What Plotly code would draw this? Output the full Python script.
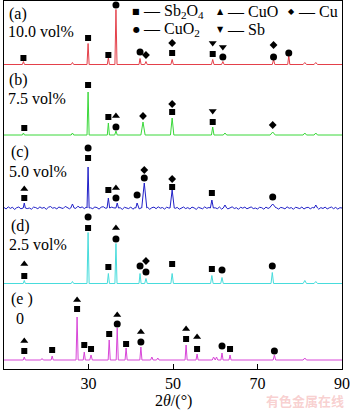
import plotly.graph_objects as go

# ---------------- data ----------------
x_ticks = [10, 30, 50, 70, 90]

sample_tags = ["(a)", "(b)", "(c)", "(d)", "(e )"]
sample_fracs = ["10.0 vol%", "7.5 vol%", "5.0 vol%", "2.5 vol%", "0"]
sample_offsets = [304.5, 234.0, 161.0, 85.5, 9.0]

# peak positions (2θ, °), intensities (a.u.) and half-widths (°)
a_pos = [14.6, 26.2, 29.9, 34.7, 36.5, 42.2, 43.6, 49.8, 59.4, 61.8, 73.8, 77.4, 81.2, 83.8]
a_int = [3, 2, 21, 7, 55, 6, 3, 5, 5, 3, 5, 9, 2, 2]
a_hw = [0.25, 0.3, 0.25, 0.25, 0.25, 0.25, 0.3, 0.3, 0.3, 0.3, 0.3, 0.25, 0.4, 0.4]

b_pos = [14.6, 26.2, 29.9, 34.7, 36.5, 42.9, 49.8, 59.4, 62.3, 73.6, 81.2, 83.8]
b_int = [2, 2, 43, 12, 4, 13, 17, 8, 2, 3, 2, 2]
b_hw = [0.25, 0.3, 0.25, 0.25, 0.3, 0.5, 0.4, 0.3, 0.4, 0.6, 0.4, 0.4]

c_pos = [14.8, 26.2, 29.9, 34.7, 36.8, 41.5, 43.2, 49.8, 59.2, 62.3, 73.6, 83.8]
c_int = [5, 4, 41, 10, 5, 5, 25, 18, 8, 3, 4, 3]
c_hw = [0.25, 0.4, 0.25, 0.3, 0.3, 0.3, 0.6, 0.5, 0.35, 0.4, 0.8, 0.4]

d_pos = [14.8, 26.2, 29.9, 34.7, 36.5, 42.2, 43.6, 49.8, 59.2, 61.6, 73.5, 81.2, 83.8]
d_int = [3, 2, 51, 10, 40, 10, 5, 10, 8, 6, 11, 3, 2]
d_hw = [0.25, 0.3, 0.25, 0.25, 0.25, 0.25, 0.3, 0.3, 0.3, 0.3, 0.3, 0.4, 0.4]

e_pos = [14.8, 19.0, 21.4, 27.3, 29.0, 30.6, 34.9, 36.8, 38.9, 42.4, 45.0, 46.4,
         53.1, 55.7, 59.6, 60.3, 61.6, 63.5, 74.0, 81.2]
e_int = [3, 1.5, 4, 43, 8, 5, 20, 32, 12, 13, 3, 2, 15, 6, 3, 3, 7, 5, 5, 2]
e_hw = [0.25, 0.3, 0.25, 0.25, 0.25, 0.3, 0.25, 0.25, 0.25, 0.25, 0.3, 0.3,
        0.25, 0.25, 0.3, 0.3, 0.25, 0.25, 0.3, 0.4]

# background of the 5.0 vol% pattern, sampled every 0.5° from 10° to 90°
c_background = [
    0.5, -1.0, 1.2, -0.4, 0.8, -1.5, 0.3, 1.0, -0.8, 0.2,
    1.4, -0.6, 0.0, -1.2, 0.9, 0.4, -0.7, 1.1, -0.3, 0.6,
    -1.3, 0.7, 1.5, -0.2, 0.4, -0.9, 1.0, 0.1, -0.5, 1.6,
    0.3, -0.8, 1.2, 0.6, -0.4, 1.8, 0.2, 1.1, -0.6, 0.9,
    1.5, 0.2, -0.7, 1.0, 0.4, -1.1, 0.8, 1.3, -0.2, 0.5,
    -1.0, 0.9, 0.1, 1.2, -0.8, 0.3, -1.4, 0.7, 0.2, -0.6,
    1.0, -1.2, 0.4, 0.8, -0.9, 0.2, 1.1, -0.5, 0.6, -1.3,
    0.3, 0.9, -0.7, 1.2, -0.2, 0.5, -1.1, 0.8, 0.0, -0.9,
    1.3, -0.4, 0.6, -1.2, 0.2, 1.0, -0.6, 0.4, -1.0, 0.9,
    0.1, -1.4, 0.7, 0.3, -0.8, 1.1, -0.3, 0.5, -1.2, 0.8,
    0.2, -0.7, 1.0, -1.1, 0.4, 0.6, -0.9, 0.1, 1.2, -0.5,
    0.3, -1.3, 0.8, -0.2, 0.9, -0.8, 0.4, 1.1, -0.6, 0.0,
    -1.0, 0.7, 0.3, -1.2, 0.9, -0.4, 0.5, 1.0, -0.7, 0.2,
    -1.1, 0.6, 0.1, -0.9, 1.2, -0.3, 0.4, -1.3, 0.8, 0.2,
    -0.6, 1.0, -1.0, 0.3, 0.7, -0.8, 0.5, -0.2, 1.1, -1.2,
    0.4, -0.5, 0.9, -0.9, 0.2, 1.0, -0.7, 0.6, -1.1, 0.3,
    0.0,
]

# phase identification marks: phase, 2θ position, height above the pattern
a_mark_phase = ["Sb2O4", "Sb2O4", "Sb2O4", "CuO2", "CuO2", "Cu", "Cu", "Sb2O4",
                "Sb", "Sb2O4", "Sb", "CuO2", "Cu", "CuO2", "CuO2"]
a_mark_pos = [14.6, 29.9, 34.7, 36.5, 42.2, 43.6, 49.8, 49.8, 59.4, 59.4, 61.8, 61.8, 73.8, 73.8, 77.4]
a_mark_h = [6.5, 26.5, 9.5, 59.5, 12.5, 9.5, 21.5, 11.5, 21.5, 10.5, 17.5, 7.5, 19.5, 7.5, 11.5]

b_mark_phase = ["Sb2O4", "Sb2O4", "Sb2O4", "CuO", "CuO2", "Cu", "Cu", "Sb2O4",
                "Sb", "Sb2O4", "Cu"]
b_mark_pos = [14.8, 29.9, 34.7, 36.5, 36.5, 42.9, 49.8, 49.8, 59.4, 59.4, 73.6]
b_mark_h = [7, 50, 18, 19, 8, 19, 31, 23, 24, 13, 10]

c_mark_phase = ["CuO", "Sb2O4", "CuO2", "Sb2O4", "Sb2O4", "CuO", "CuO2", "CuO2",
                "Cu", "CuO2", "Cu", "Sb2O4", "Sb2O4", "CuO2"]
c_mark_pos = [14.8, 14.8, 29.9, 29.9, 34.7, 36.5, 36.5, 41.5, 43.2, 43.2, 49.8, 49.8, 59.2, 73.6]
c_mark_h = [19, 10, 60, 50, 18, 20, 10, 13, 38, 30, 29, 21, 15, 11]

d_mark_phase = ["CuO", "Sb2O4", "CuO2", "Sb2O4", "Sb2O4", "CuO", "CuO2", "CuO2",
                "Cu", "CuO2", "Sb2O4", "Sb2O4", "CuO2", "CuO2"]
d_mark_pos = [14.8, 14.8, 29.9, 29.9, 34.7, 36.5, 36.5, 42.2, 43.6, 43.6, 49.8, 59.2, 61.6, 73.5]
d_mark_h = [19.5, 7.5, 66.5, 55.5, 16.5, 55.5, 44.5, 17.5, 22.5, 11.5, 19.5, 14.5, 13.5, 17.5]

e_mark_phase = ["CuO", "Sb2O4", "Sb2O4", "CuO", "Sb2O4", "Sb2O4", "Sb2O4", "Sb2O4",
                "CuO", "CuO2", "Sb2O4", "CuO", "CuO2", "CuO", "Sb2O4", "CuO",
                "Sb2O4", "CuO2", "Sb2O4", "CuO2"]
e_mark_pos = [14.8, 14.8, 21.4, 27.3, 27.3, 29.0, 30.6, 34.9, 36.8, 36.8, 38.9, 42.4,
              42.4, 53.1, 53.1, 55.7, 55.7, 61.6, 63.5, 74.0]
e_mark_h = [19, 9, 10, 60, 51, 15, 11, 26, 45, 36, 16, 28, 18, 31, 21, 23, 11, 14, 11, 9]

legend_phases = ["Sb2O4", "CuO", "Cu", "CuO2", "Sb"]
legend_names = ["Sb<sub>2</sub>O<sub>4</sub>", "CuO", "Cu", "CuO<sub>2</sub>", "Sb"]

# ---------------- styling ----------------
line_colors = ["#e4404a", "#3ad83a", "#2020c8", "#48dcdc", "#d846d8"]
phase_symbol = {"Sb2O4": "square", "CuO": "triangle-up", "Cu": "diamond",
                "CuO2": "circle", "Sb": "triangle-down"}
phase_size = {"Sb2O4": 6, "CuO": 7, "Cu": 6, "CuO2": 7, "Sb": 7}
phase_glyph = {"Sb2O4": "■", "CuO": "▲", "Cu": "◆", "CuO2": "●", "Sb": "▼"}

SERIF = "Liberation Serif, Times New Roman, serif"
X_MIN, X_MAX = 10, 90
Y_MAX = 368
W, H = 350, 410
M_L, M_R, M_T, M_B = 4, 8, 1, 41
PW, PH = W - M_L - M_R, H - M_T - M_B


def profile(pos, inten, hw, background=None):
    """Polyline of a diffraction pattern: sharp reflections on a background."""
    pts = []
    if background is None:
        pts += [(X_MIN, 0.0), (X_MAX, 0.0)]
    else:
        for i, b in enumerate(background):
            x = X_MIN + 0.5 * i
            if all(abs(x - p) > w for p, w in zip(pos, hw)):
                pts.append((x, b))
    for p, h, w in zip(pos, inten, hw):
        pts += [(p - w, 0.0), (p, float(h)), (p + w, 0.0)]
    pts.sort()
    return [q[0] for q in pts], [q[1] for q in pts]


def px(xp, yp):
    return (xp - M_L) / PW, (H - M_B - yp) / PH


fig = go.Figure()

patterns = [
    (a_pos, a_int, a_hw, None, a_mark_phase, a_mark_pos, a_mark_h),
    (b_pos, b_int, b_hw, None, b_mark_phase, b_mark_pos, b_mark_h),
    (c_pos, c_int, c_hw, c_background, c_mark_phase, c_mark_pos, c_mark_h),
    (d_pos, d_int, d_hw, None, d_mark_phase, d_mark_pos, d_mark_h),
    (e_pos, e_int, e_hw, None, e_mark_phase, e_mark_pos, e_mark_h),
]

for k, (pos, inten, hw, bg, mph, mpos, mh) in enumerate(patterns):
    off = sample_offsets[k]
    xs, ys = profile(pos, inten, hw, bg)
    fig.add_trace(go.Scatter(
        x=xs, y=[v + off for v in ys], mode="lines",
        line=dict(color=line_colors[k], width=1), showlegend=False,
        hoverinfo="skip"))
    for ph in legend_phases:
        sel = [i for i, q in enumerate(mph) if q == ph]
        if not sel:
            continue
        fig.add_trace(go.Scatter(
            x=[mpos[i] for i in sel], y=[mh[i] + off for i in sel],
            mode="markers",
            marker=dict(symbol=phase_symbol[ph], size=phase_size[ph], color="black",
                        line=dict(width=0)),
            showlegend=False, hoverinfo="skip"))

annotations = []
# sample labels
tag_px = [(7, 14), (7, 80), (9, 152), (9, 226), (9, 299)]
frac_px = [(6, 32), (6, 98), (7, 171), (7, 244), (14, 318)]
for k in range(5):
    x0, y0 = px(*tag_px[k])
    annotations.append(dict(x=x0, y=y0, xref="paper", yref="paper", text=sample_tags[k],
                            showarrow=False, xanchor="left", yanchor="middle",
                            font=dict(family=SERIF, size=16, color="black")))
    x1, y1 = px(*frac_px[k])
    annotations.append(dict(x=x1, y=y1, xref="paper", yref="paper", text=sample_fracs[k],
                            showarrow=False, xanchor="left", yanchor="middle",
                            font=dict(family=SERIF, size=16, color="black")))

# phase key
key_px = [(136, 12), (220, 12), (291, 12), (136, 29), (220, 29)]
for ph, name, (kx, ky) in zip(legend_phases, legend_names, key_px):
    sx, sy = px(kx, ky)
    annotations.append(dict(x=sx, y=sy, xref="paper", yref="paper", text=phase_glyph[ph],
                            showarrow=False, xanchor="center", yanchor="middle",
                            font=dict(family="DejaVu Sans", size=8, color="black")))
    tx, ty = px(kx + 5, ky)
    annotations.append(dict(x=tx, y=ty, xref="paper", yref="paper", text="— " + name,
                            showarrow=False, xanchor="left", yanchor="middle",
                            font=dict(family=SERIF, size=16, color="black")))

# axis title
ax, ay = px(173, 401)
annotations.append(dict(x=ax, y=ay, xref="paper", yref="paper", text="2<i>θ</i>/(°)",
                        showarrow=False, xanchor="center", yanchor="middle",
                        font=dict(family=SERIF, size=16, color="black")))
# site mark
wx, wy = px(305, 400)
annotations.append(dict(x=wx, y=wy, xref="paper", yref="paper", text="<b>有色金属在线</b>",
                        showarrow=False, xanchor="center", yanchor="middle",
                        font=dict(family="Noto Sans CJK SC", size=13, color="rgba(240,150,150,0.45)")))

fig.update_layout(
    width=W, height=H,
    margin=dict(l=M_L, r=M_R, t=M_T, b=M_B),
    paper_bgcolor="white", plot_bgcolor="white",
    annotations=annotations,
    xaxis=dict(range=[X_MIN, X_MAX], tickvals=x_ticks, ticktext=[str(t) for t in x_ticks],
               ticks="inside", ticklen=5, tickwidth=1, tickcolor="black",
               showline=True, linecolor="black", linewidth=1, mirror=True,
               showgrid=False, zeroline=False,
               tickfont=dict(family=SERIF, size=16, color="black")),
    yaxis=dict(range=[0, Y_MAX], showticklabels=False, ticks="",
               showline=True, linecolor="black", linewidth=1, mirror=True,
               showgrid=False, zeroline=False),
)

fig.write_html("out.html")
